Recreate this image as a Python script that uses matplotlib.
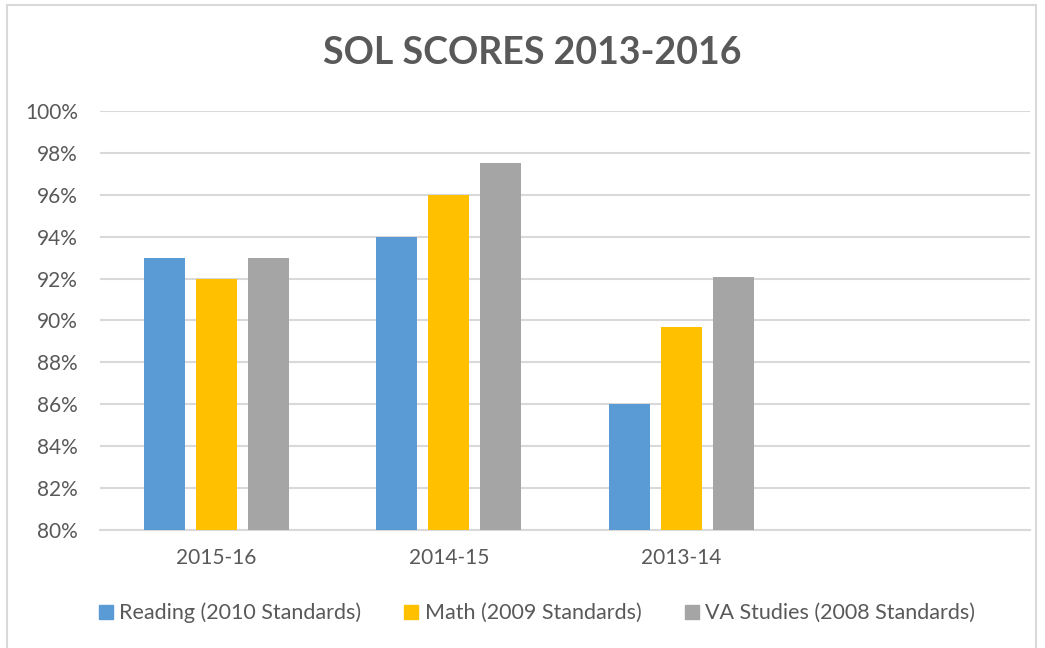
import matplotlib
matplotlib.use("Agg")
import matplotlib.pyplot as plt
import matplotlib.patches as patches
import numpy as np

categories = ["2015-16", "2014-15", "2013-14", ""]
series_names = [
    "Reading (2010 Standards)",
    "Math (2009 Standards)",
    "VA Studies (2008 Standards)",
]
reading = [93.0, 94.0, 86.0, np.nan]
math_scores = [92.0, 96.0, 89.7, np.nan]
va_studies = [93.0, 97.5, 92.1, np.nan]
y_ticks = [80, 82, 84, 86, 88, 90, 92, 94, 96, 98, 100]

colors = ["#5B9BD5", "#FFC000", "#A5A5A5"]
text_color = "#595959"

plt.rcParams["font.family"] = ["Lato", "DejaVu Sans"]

fig = plt.figure(figsize=(10.45, 6.48), dpi=100)
ax = fig.add_axes([100 / 1045, 1 - 530 / 648, 930 / 1045, 419 / 648])

x = np.arange(len(categories))
width = 0.176
step = 0.224
for i, (vals, name) in enumerate(zip([reading, math_scores, va_studies], series_names)):
    ax.bar(x + (i - 1) * step, vals, width, color=colors[i], label=name,
           zorder=3)

ax.set_xlim(-0.5, len(categories) - 0.5)
ax.set_ylim(80, 100)
ax.set_yticks(y_ticks)
ax.set_yticklabels([f"{t}%" for t in y_ticks])
ax.set_xticks(x)
ax.set_xticklabels(categories)
ax.tick_params(axis="both", length=0, labelsize=15, colors=text_color)
ax.tick_params(axis="y", pad=16)
ax.tick_params(axis="x", pad=13)
ax.grid(axis="y", color="#D9D9D9", linewidth=1.5, zorder=0)
for s in ["top", "right", "left"]:
    ax.spines[s].set_visible(False)
ax.spines["bottom"].set_color("#D9D9D9")
ax.spines["bottom"].set_linewidth(1.5)

fig.text(532 / 1045, 1 - 53 / 648, "SOL SCORES 2013-2016", ha="center",
         va="center", fontsize=27, fontweight="bold", color=text_color)

handles = [patches.Patch(color=c) for c in colors]
fig.legend(handles, series_names, loc="center", ncol=3,
           bbox_to_anchor=(537 / 1045, 1 - 613 / 648), frameon=False,
           fontsize=15.5, labelcolor=text_color, handlelength=0.65,
           handleheight=0.65, handletextpad=0.3, columnspacing=2.0)

# chart border
border = patches.Rectangle((7 / 1045, -0.01), 1029 / 1045, 1 - 5 / 648 + 0.01,
                           transform=fig.transFigure, fill=False,
                           edgecolor="#D9D9D9", linewidth=1.5)
fig.patches.append(border)

fig.savefig("out.png", dpi=100)
